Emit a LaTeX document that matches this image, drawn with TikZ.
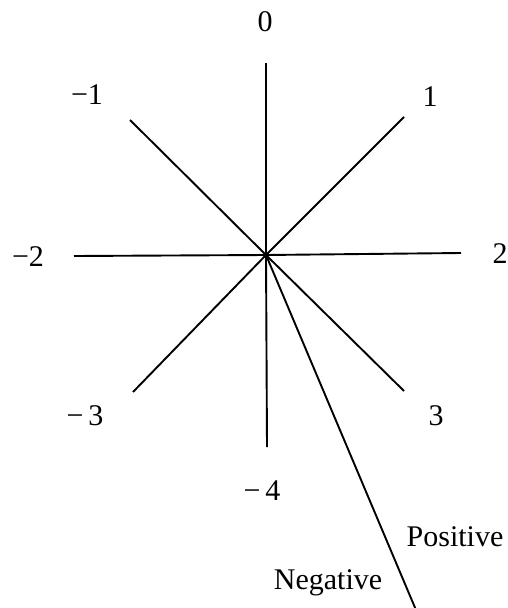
\documentclass[tikz,border=0pt]{standalone}
\usepackage{fontspec}
\setmainfont{Liberation Serif}
\usepackage{tikz}

\begin{document}
\begin{tikzpicture}[x=1pt,y=-1pt,
		spoke/.style={line width=1.9pt},
		lbl/.style={font=\fontsize{30}{32}\selectfont, inner sep=0pt}]
			\useasboundingbox (0,0) rectangle (508,608);
			\coordinate (o) at (266,255);
			
			% ends of the spokes
			\coordinate (e0) at (266,63);
			\coordinate (e1) at (404,117);
			\coordinate (em1) at (130,120);
			\coordinate (em2) at (74,256);
			\coordinate (e2) at (461,253);
			\coordinate (em3) at (133,392);
			\coordinate (e3) at (404,391);
			\coordinate (em4) at (267,447);
			\coordinate (tail) at (416,610);
			
			\node[lbl] (l0) at (265,22) {0};
			\node[lbl] (l1) at (430,97) {1};
			\node[lbl] (lm1) at (87,95) {−1};
			\node[lbl] (lm2) at (28,257) {−2};
			\node[lbl] (l2) at (500,254) {2};
			\node[lbl] (lm3) at (85,416) {−\,3};
			\node[lbl] (l3) at (436,416) {3};
			\node[lbl] (lm4) at (262,491) {−\,4};
			\node[lbl] (pos) at (455,537) {Positive};
			\node[lbl] (neg) at (328,583) {Negative};
			
			\draw[spoke] (o) -- (e0);
			\draw[spoke] (o) -- (e1);
			\draw[spoke] (o) -- (em1);
			\draw[spoke] (o) -- (em2);
			\draw[spoke] (o) -- (e2);
			\draw[spoke] (o) -- (em3);
			\draw[spoke] (o) -- (e3);
			\draw[spoke] (o) -- (em4);
			\draw[spoke] (o) -- (tail);
		\end{tikzpicture}
\end{document}
